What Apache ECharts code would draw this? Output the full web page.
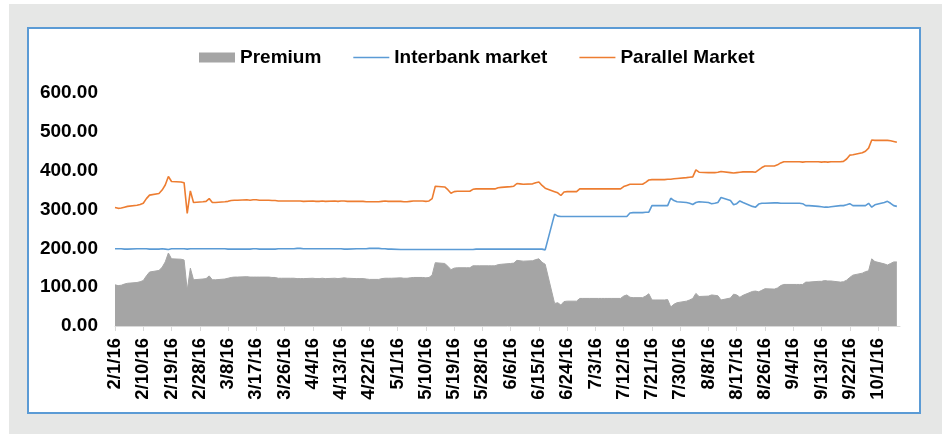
<!DOCTYPE html>
<html>
<head>
<meta charset="utf-8">
<script src="https://cdn.jsdelivr.net/npm/echarts@6/dist/echarts.min.js"></script>
<style>
html,body{margin:0;padding:0;width:942px;height:434px;background:#ffffff;overflow:hidden;}
#bg{position:absolute;left:9px;top:4px;width:933px;height:430px;background:#e6e7e6;}
#box{position:absolute;left:27px;top:27px;width:894px;height:387px;background:#ffffff;border:2px solid #5b9bd5;box-sizing:border-box;}
#chart{position:absolute;left:0;top:0;width:942px;height:434px;}
</style>
</head>
<body>
<div id="bg"></div>
<div id="box"></div>
<div id="chart"></div>
<script>
// Business days 2/1/2016 .. 10/7/2016 (Mon-Fri)
const startDate = '2016-02-01';
const endDate = '2016-10-07';

const tickLabels = ['2/1/16','2/10/16','2/19/16','2/28/16','3/8/16','3/17/16','3/26/16','4/4/16','4/13/16','4/22/16','5/1/16','5/10/16','5/19/16','5/28/16','6/6/16','6/15/16','6/24/16','7/3/16','7/12/16','7/21/16','7/30/16','8/8/16','8/17/16','8/26/16','9/4/16','9/13/16','9/22/16','10/1/16'];

const parallelMarket = [
305,303,304,306,308, 311,313,316,328,337, 341,350,363,385,372, 371,369,290,348,318,
320,321,328,318,318, 320,321,323,324,324, 325,324,325,325,324, 324,323,323,322,322,
322,322,322,322,321, 322,321,321,322,321, 322,321,322,322,321, 321,321,321,320,320,
320,321,322,321,321, 321,320,320,321,322, 322,321,322,328,360, 358,351,342,346,347,
347,347,352,353,353, 353,353,353,356,357, 359,360,367,366,365, 366,369,371,362,355,
346,343,336,345,346, 346,353,353,353,353, 353,353,353,353,353, 353,359,362,365,365,
365,370,376,377,377, 377,378,378,379,380, 382,383,384,402,396, 395,395,395,396,398,
395,394,395,396,397, 397,396,402,408,412, 412,415,420,423,423, 423,423,422,423,423,
423,422,423,422,423, 423,424,430,440,441, 446,450,458,479,478, 478,478,477,475,473
];

const interbankMarket = [
199,199,199,198,198, 199,199,199,199,198, 198,199,198,197,199, 199,199,198,199,199,
199,199,199,199,199, 199,198,198,198,198, 198,198,199,199,198, 198,198,198,199,199,
199,199,200,200,199, 199,199,199,199,199, 199,199,199,198,198, 199,199,199,199,200,
200,199,199,198,198, 197,197,197,197,197, 197,197,197,197,197, 197,197,197,197,197,
197,197,197,198,198, 198,198,198,198,198, 198,198,198,198,198, 198,198,198,198,196,
288,283,282,282,282, 282,282,282,282,282, 282,282,282,282,282, 282,282,282,291,292,
292,293,293,310,310, 310,310,329,323,320, 318,316,313,318,320, 318,315,316,318,331,
323,312,315,322,318, 308,306,314,316,316, 317,317,316,316,316, 316,316,315,310,310,
308,307,306,306,307, 310,310,312,315,310, 310,310,316,306,312, 318,321,316,310,308
];

const premium = [
106,104,105,108,110, 112,114,117,129,139, 143,151,165,188,173, 172,170,92,149,119,
121,122,129,119,119, 121,123,125,126,126, 127,126,126,126,126, 126,125,125,123,123,
123,123,122,122,122, 123,122,122,123,122, 123,122,123,124,123, 122,122,122,121,120,
120,122,123,123,123, 124,123,123,124,125, 125,124,125,131,163, 161,154,145,149,150,
150,150,155,155,155, 155,155,155,158,159, 161,162,169,168,167, 168,171,173,164,159,
58,60,54,63,64, 64,71,71,71,71, 71,71,71,71,71, 71,77,80,74,73,
73,77,83,67,67, 67,68,49,56,60, 64,67,71,84,76, 77,80,79,78,67,
72,82,80,74,79, 89,90,88,92,96, 95,98,104,107,107, 107,107,107,113,113,
115,115,117,116,116, 113,114,118,125,131, 136,140,142,173,166, 160,157,161,165,165
];

const DAY = 86400000;
const t0 = Date.UTC(2016, 1, 1);
function parseISO(s){ const p = s.split('-').map(Number); return Date.UTC(p[0], p[1]-1, p[2]); }
const dayOffsets = [];
for (let t = parseISO(startDate); t <= parseISO(endDate); t += DAY) {
  const wd = new Date(t).getUTCDay();
  if (wd !== 0 && wd !== 6) dayOffsets.push(Math.round((t - t0) / DAY));
}
function labelToOffset(s){ const p = s.split('/').map(Number); return Math.round((Date.UTC(2000 + p[2], p[0]-1, p[1]) - t0) / DAY); }
const tickOffsets = tickLabels.map(labelToOffset);
function offsetToLabel(v){ const idx = tickOffsets.indexOf(Math.round(v)); return idx >= 0 ? tickLabels[idx] : ''; }

const pair = arr => dayOffsets.map((d, i) => [d, arr[i]]);

const chart = echarts.init(document.getElementById('chart'), null, {renderer: 'canvas'});
const font = 'Liberation Sans, Arial, sans-serif';
const lineIcon = 'path://M0,0H36V1.6H0Z';
chart.setOption({
  backgroundColor: 'transparent',
  animation: false,
  legend: {
    top: 43,
    left: 194,
    itemWidth: 36,
    itemHeight: 10,
    itemGap: 32,
    textStyle: {fontFamily: font, fontSize: 19, fontWeight: 'bold', color: '#000'},
    data: [
      {name: 'Premium', icon: 'rect', itemStyle: {color: '#a5a5a5'}},
      {name: 'Interbank market', icon: lineIcon, itemStyle: {color: '#5b9bd5', borderWidth: 0}},
      {name: 'Parallel Market', icon: lineIcon, itemStyle: {color: '#ed7d31', borderWidth: 0}}
    ]
  },
  grid: {left: 115, right: 42, top: 93, bottom: 108, containLabel: false},
  xAxis: {
    type: 'value',
    min: 0,
    max: 250,
    splitLine: {show: false},
    axisLine: {show: true, lineStyle: {color: '#d9d9d9', width: 1}},
    axisTick: {show: true, length: 5, lineStyle: {color: '#d9d9d9'}, customValues: tickOffsets},
    axisLabel: {
      customValues: tickOffsets,
      rotate: 90,
      margin: 12,
      fontFamily: font,
      fontSize: 18.5,
      fontWeight: 'bold',
      color: '#000',
      formatter: v => offsetToLabel(v)
    }
  },
  yAxis: {
    type: 'value',
    min: 0,
    max: 600,
    interval: 100,
    splitLine: {show: false},
    axisLine: {show: false},
    axisTick: {show: false},
    axisLabel: {
      margin: 17,
      fontFamily: font,
      fontSize: 19,
      fontWeight: 'bold',
      color: '#000',
      formatter: v => v.toFixed(2)
    }
  },
  series: [
    {
      name: 'Premium', type: 'line', data: pair(premium),
      symbol: 'none', color: '#a5a5a5',
      lineStyle: {width: 1, color: '#a5a5a5'},
      areaStyle: {color: '#a5a5a5', opacity: 1},
      z: 1
    },
    {
      name: 'Interbank market', type: 'line', data: pair(interbankMarket),
      symbol: 'none', color: '#5b9bd5',
      lineStyle: {width: 1.6, color: '#5b9bd5'},
      z: 2
    },
    {
      name: 'Parallel Market', type: 'line', data: pair(parallelMarket),
      symbol: 'none', color: '#ed7d31',
      lineStyle: {width: 1.6, color: '#ed7d31'},
      z: 3
    }
  ]
});
</script>
</body>
</html>
